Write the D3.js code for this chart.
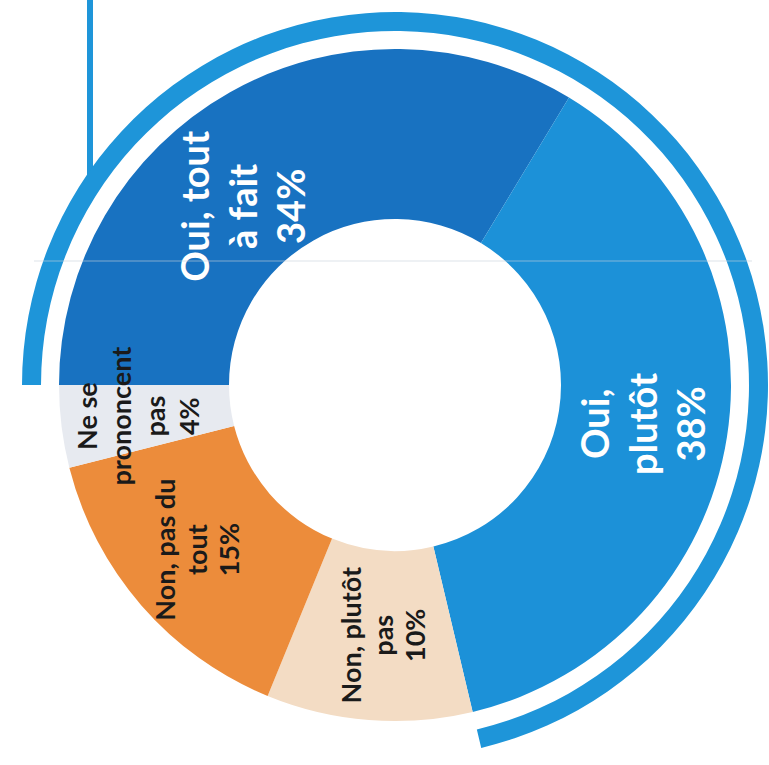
<!DOCTYPE html>
<html>
<head>
<meta charset="utf-8">
<script src="https://cdn.jsdelivr.net/npm/d3@7/dist/d3.min.js"></script>
<style>
  html, body { margin: 0; padding: 0; background: #ffffff; }
  svg { display: block; }
</style>
</head>
<body>
<svg id="chart" width="769" height="765"></svg>
<script>
// Survey answers, in the order they run around the ring
const categories = ["Oui, tout à fait", "Oui, plutôt", "Non, plutôt pas", "Non, pas du tout", "Ne se prononcent pas"];
const values = [34, 38, 10, 15, 4];
const labelLines = [
  ["Oui, tout", "à fait", "34%"],
  ["Oui,", "plutôt", "38%"],
  ["Non, plutôt", "pas", "10%"],
  ["Non, pas du", "tout", "15%"],
  ["Ne se", "prononcent", "pas", "4%"]
];
const sliceColors = ["#1872c1", "#1c91d8", "#f3dcc4", "#ec8c3b", "#e7eaf0"];
const textColors = ["#ffffff", "#ffffff", "#1a1a1a", "#1a1a1a", "#1a1a1a"];

const W = 769, H = 765;
const cx = 395, cy = 385;
const rInner = 166, rOuter = 336;
const bandInner = 354, bandOuter = 373;

const svg = d3.select("#chart");
svg.append("rect").attr("width", W).attr("height", H).attr("fill", "#ffffff");

// The ring starts at 9 o'clock and runs clockwise
const pie = d3.pie().sort(null).value(d => d.value)
  .startAngle(-Math.PI / 2).endAngle(3 * Math.PI / 2);
const data = categories.map((c, i) => ({ name: c, value: values[i], i }));
const arcs = pie(data);

const arc = d3.arc().innerRadius(rInner).outerRadius(rOuter);
const g = svg.append("g").attr("transform", `translate(${cx},${cy})`);

// Vertical rule on the left that runs down into the outer band
const ruleX = 90 - cx;
const ruleEndY = -Math.sqrt(bandOuter * bandOuter - ruleX * ruleX) + 6;
g.append("rect")
  .attr("x", ruleX - 3).attr("y", -cy)
  .attr("width", 6).attr("height", ruleEndY + cy)
  .attr("fill", "#1e95d9");

// Outer band wrapping the two "Oui" answers
const ouiArcs = arcs.filter(a => a.data.name.startsWith("Oui"));
g.append("path")
  .attr("d", d3.arc().innerRadius(bandInner).outerRadius(bandOuter)
    .startAngle(d3.min(ouiArcs, a => a.startAngle))
    .endAngle(d3.max(ouiArcs, a => a.endAngle))())
  .attr("fill", "#1e95d9");

g.selectAll("path.slice").data(arcs).join("path")
  .attr("class", "slice")
  .attr("d", arc)
  .attr("fill", d => sliceColors[d.data.i]);

// Labels read bottom-to-top, centred on each slice
const labelStyle = [
  { size: 38, lh: 48, shift: [-28, 40] },
  { size: 38, lh: 48, shift: [0, 0] },
  { size: 27, lh: 32, shift: [8, 0] },
  { size: 27, lh: 32, shift: [-8, 0] },
  { size: 27, lh: 34, shift: [-8, 0] }
];
const labels = g.selectAll("g.label").data(arcs).join("g")
  .attr("class", "label")
  .attr("transform", d => {
    const [x, y] = arc.centroid(d);
    const s = labelStyle[d.data.i].shift;
    return `translate(${x + s[0]},${y + s[1]}) rotate(-90)`;
  });

labels.append("text")
  .attr("text-anchor", "middle")
  .attr("font-family", "Lato, 'Open Sans', sans-serif")
  .attr("font-weight", 700)
  .attr("font-size", d => labelStyle[d.data.i].size)
  .attr("fill", d => textColors[d.data.i])
  .each(function (d) {
    const st = labelStyle[d.data.i];
    const lines = labelLines[d.data.i];
    const t = d3.select(this);
    lines.forEach((ln, k) => {
      t.append("tspan")
        .attr("x", 0)
        .attr("y", (k - (lines.length - 1) / 2) * st.lh + st.size * 0.36)
        .text(ln);
    });
  });

// Faint crease across the sheet
svg.append("line")
  .attr("x1", 34).attr("x2", 752).attr("y1", 261).attr("y2", 261)
  .attr("stroke", "#c9d3dc").attr("stroke-opacity", 0.6).attr("stroke-width", 1.2);
</script>
</body>
</html>
